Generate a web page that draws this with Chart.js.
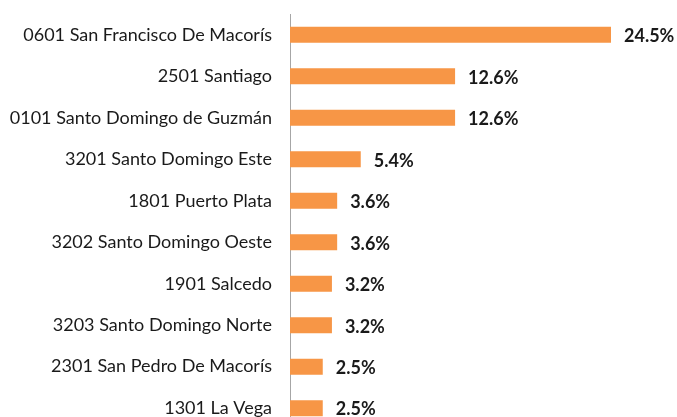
<!DOCTYPE html>
<html><head><meta charset="utf-8">
<script src="https://cdn.jsdelivr.net/npm/chart.js@4"></script>
<style>html,body{margin:0;padding:0;background:#fff;overflow:hidden}canvas{display:block;margin-top:-4px}</style>
</head><body><canvas id="c" width="677" height="451"></canvas>
<script>
const categories = ["0601 San Francisco De Macorís","2501 Santiago","0101 Santo Domingo de Guzmán","3201 Santo Domingo Este","1801 Puerto Plata","3202 Santo Domingo Oeste","1901 Salcedo","3203 Santo Domingo Norte","2301 San Pedro De Macorís","1301 La Vega"];
const values = [24.5,12.6,12.6,5.4,3.6,3.6,3.2,3.2,2.5,2.5];
const valueLabels = ["24.5%","12.6%","12.6%","5.4%","3.6%","3.6%","3.2%","3.2%","2.5%","2.5%"];
const FONT = "Lato";
const labelPlugin = {
  id:'vlabels',
  afterDatasetsDraw(chart){
    const ctx = chart.ctx;
    const meta = chart.getDatasetMeta(0);
    ctx.save();
    ctx.font = "bold 18px " + FONT;
    ctx.fillStyle = "#1a1a1a";
    ctx.textAlign = "left";
    ctx.textBaseline = "middle";
    meta.data.forEach((bar,i)=>{
      ctx.fillText(valueLabels[i], bar.x + 13, bar.y + 1.5);
    });
    ctx.restore();
  }
};
new Chart(document.getElementById('c'), {
  type:'bar',
  data:{labels:categories, datasets:[{data:values, backgroundColor:'#F79646', borderWidth:0, barPercentage:0.386, categoryPercentage:1.0}]},
  options:{
    indexAxis:'y', responsive:false, animation:false,
    layout:{padding:{top:0,right:66,bottom:0,left:0}},
    plugins:{legend:{display:false}, tooltip:{enabled:false}},
    scales:{
      x:{display:false, min:0, max:24.5},
      y:{
        grid:{display:false, drawTicks:false},
        border:{display:true, color:'#a6a6a6', width:1},
        ticks:{padding:18, color:'#1a1a1a', font:{family:FONT, size:18, lineHeight:0.01}},
        afterFit(s){ s.width = 290; }
      }
    }
  },
  plugins:[labelPlugin]
});
</script></body></html>
